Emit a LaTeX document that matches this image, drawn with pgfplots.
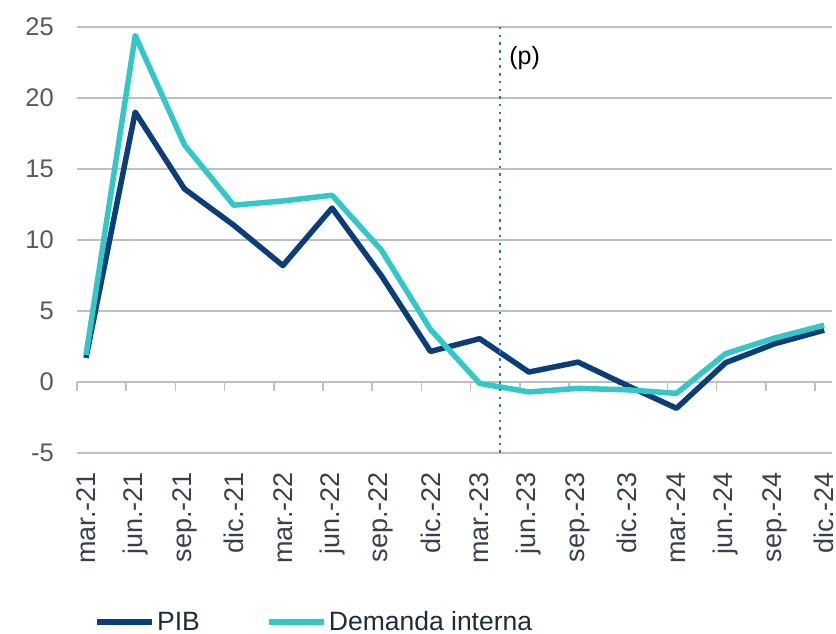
\documentclass[border=0pt]{standalone}
\usepackage{pgfplots}
\pgfplotsset{compat=1.18}
\usepackage{fontspec}
\setmainfont{Liberation Sans}
\definecolor{pib}{HTML}{0B3D78}
\definecolor{dem}{HTML}{33C7C8}
\definecolor{gridc}{HTML}{BFBFBF}
\definecolor{ylab}{HTML}{595959}
\definecolor{xlab}{HTML}{3A3F4F}
\definecolor{legtext}{HTML}{1F2A3A}
\definecolor{dotc}{HTML}{2E75B6}
\begin{document}
\begin{tikzpicture}
\begin{axis}[
  scale only axis, width=755pt, height=426pt,
  xmin=-0.183, xmax=15.16, ymin=-5, ymax=25,
  clip=false,
  axis line style={draw=none},
  major tick length=0pt,
  ytick={-5,0,5,10,15,20,25},
  yticklabels={-5,0,5,10,15,20,25},
  ymajorgrids, grid style={gridc, line width=1.5pt},
  xtick={0,...,15},
  xticklabels={mar.-21,jun.-21,sep.-21,dic.-21,mar.-22,jun.-22,sep.-22,dic.-22,mar.-23,jun.-23,sep.-23,dic.-23,mar.-24,jun.-24,sep.-24,dic.-24},
  x tick label style={rotate=90, anchor=east, inner sep=0pt, xshift=-19pt, text=xlab, font=\fontsize{27}{32}\selectfont},
  y tick label style={anchor=east, inner sep=0pt, xshift=-23pt, text=ylab, font=\fontsize{25.5}{30}\selectfont},
  legend columns=2,
  legend style={at={(rel axis cs:0,0)}, anchor=west, xshift=17pt, yshift=-169pt, draw=none, fill=none, inner sep=0pt,
    font=\fontsize{26.5}{30}\selectfont, text=legtext,
    /tikz/every even column/.append style={column sep=64pt}},
  legend image code/.code={\draw[#1, line width=6pt] (0pt,0pt) -- (55pt,0pt);},
]
\coordinate (SW) at (rel axis cs:0,0);
\coordinate (NE) at (rel axis cs:1,1);
\pgfplotsinvokeforeach{-0.183,0.817,1.817,2.817,3.817,4.817,5.817,6.817,7.817,8.817,9.817,10.817,11.817,12.817,13.817,14.817}{
  \draw[gridc, line width=1.5pt] (axis cs:#1,0) -- ++(0pt,-9pt);
}
\addplot[pib, line width=5.5pt, line join=round] coordinates {
 (0,1.7) (1,19.0) (2,13.6) (3,11.05) (4,8.2) (5,12.25) (6,7.5) (7,2.15)
 (8,3.05) (9,0.7) (10,1.4) (11,-0.25) (12,-1.85) (13,1.36) (14,2.7) (15,3.65)};
\addlegendentry{PIB}
\addplot[dem, line width=5.5pt, line join=round] coordinates {
 (0,1.9) (1,24.4) (2,16.7) (3,12.45) (4,12.75) (5,13.15) (6,9.3) (7,3.7)
 (8,-0.1) (9,-0.7) (10,-0.45) (11,-0.55) (12,-0.8) (13,2.0) (14,3.1) (15,4.0)};
\addlegendentry{Demanda interna}
\addplot[dotc, line width=2.5pt, dash pattern=on 2.5pt off 5.2pt, forget plot] coordinates {(8.41,25) (8.41,-5.3)};
\node[anchor=west, inner sep=0pt, font=\fontsize{25}{30}\selectfont] at (axis cs:8.6,22.8) {(p)};
\end{axis}
\pgfresetboundingbox
\useasboundingbox ([xshift=-77pt,yshift=-181pt]SW) rectangle ([xshift=4pt,yshift=27pt]NE);
\end{tikzpicture}
\end{document}
